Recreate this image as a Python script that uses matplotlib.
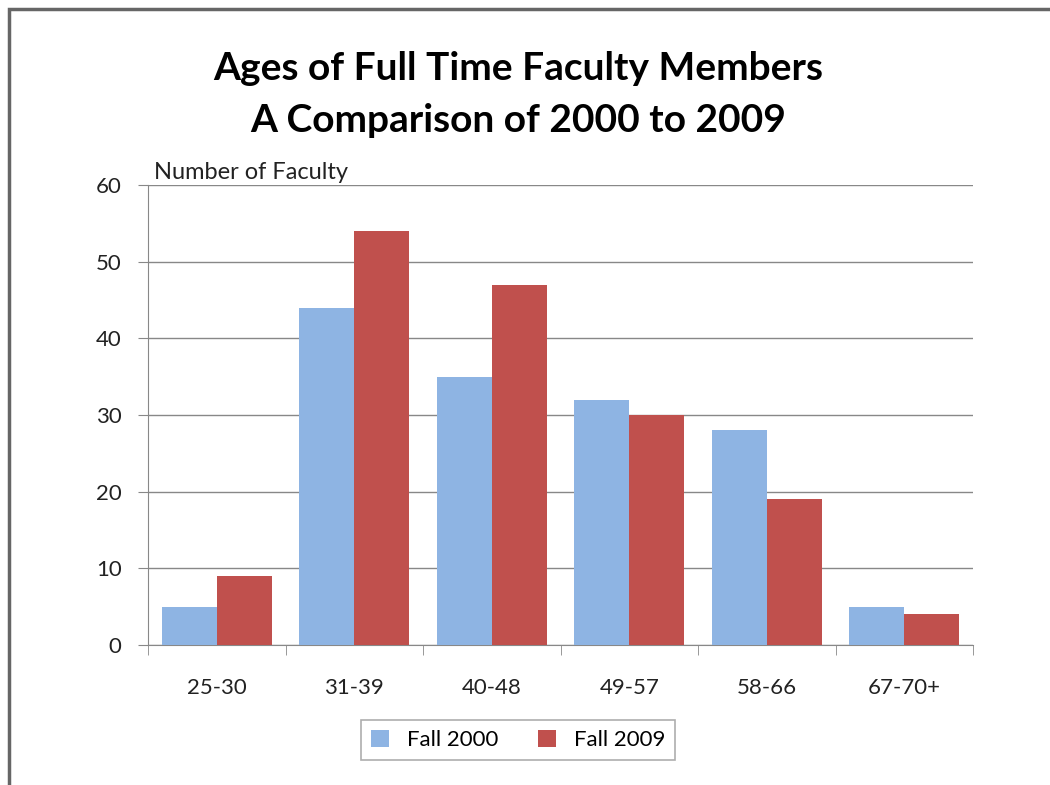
import numpy as np
import matplotlib.pyplot as plt
from matplotlib.patches import Rectangle

########## Data ##########
age_groups = ["25-30", "31-39", "40-48", "49-57", "58-66", "67-70+"]
fall_2000 = [5, 44, 35, 32, 28, 5]
fall_2009 = [9, 54, 47, 30, 19, 4]

blue = "#8EB4E3"
red = "#C0504D"

plt.rcParams['font.family'] = ['Lato', 'DejaVu Sans']

fig = plt.figure(figsize=(10.5, 7.85), dpi=100)
ax = fig.add_axes([148/1050, 1 - 645/785, 825/1050, 460/785])

x = np.arange(len(age_groups))
w = 0.4
ax.bar(x - w/2, fall_2000, w, color=blue, label="Fall 2000", zorder=3)
ax.bar(x + w/2, fall_2009, w, color=red, label="Fall 2009", zorder=3)

ax.set_xlim(-0.5, len(age_groups) - 0.5)
ax.set_ylim(0, 60)
ax.set_yticks(range(0, 61, 10))
ax.set_xticks(x)
ax.set_xticklabels(age_groups)
ax.set_xticks(np.arange(-0.5, len(age_groups)), minor=True)
ax.tick_params(axis='x', which='major', length=0, pad=24, labelsize=16, colors='#222222')
ax.tick_params(axis='x', which='minor', length=7, color='#888888', direction='out')
ax.tick_params(axis='y', length=7, color='#888888', labelsize=16, pad=12, colors='#222222')
ax.tick_params(axis='y', color='#888888')
ax.grid(axis='y', color='#888888', linewidth=1, zorder=0)

for s in ['top', 'right']:
    ax.spines[s].set_visible(False)
for s in ['left', 'bottom']:
    ax.spines[s].set_color('#888888')

ax.text(155/1050 - 148/1050, 1.005, "Number of Faculty", transform=ax.transAxes,
        fontsize=17, color='#222222', ha='left', va='bottom')

fig.text(518/1050, 1 - 68/785, "Ages of Full Time Faculty Members", fontsize=28,
         fontweight='bold', ha='center', va='center')
fig.text(518/1050, 1 - 120/785, "A Comparison of 2000 to 2009", fontsize=28,
         fontweight='bold', ha='center', va='center')

leg = fig.legend(loc='center', bbox_to_anchor=(518/1050, 1 - 740/785), ncol=2,
                 fontsize=16, frameon=True, fancybox=False, handlelength=0.8,
                 handleheight=0.8, columnspacing=1.8, borderpad=0.45, borderaxespad=0)
leg.get_frame().set_edgecolor('#999999')
leg.get_frame().set_linewidth(1.2)

# outer frame
fig.add_artist(Rectangle((9/1050, -0.05), 1.2, 1 - 9/785 + 0.05, transform=fig.transFigure,
                         fill=False, edgecolor='#666666', linewidth=2.5))

fig.savefig("out.png", dpi=100)
